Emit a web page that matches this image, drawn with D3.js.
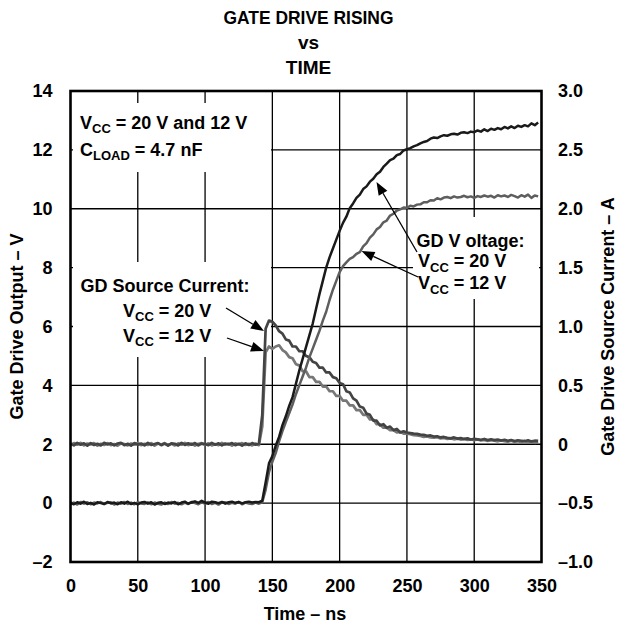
<!DOCTYPE html>
<html>
<head>
<meta charset="utf-8">
<script src="https://cdn.jsdelivr.net/npm/d3@7"></script>
<style>
  body { margin: 0; background: #fff; }
  svg text { font-family: "Liberation Sans", Arial, Helvetica, sans-serif; font-weight: bold; fill: #000; }
</style>
</head>
<body>
<svg id="chart" width="617" height="632"></svg>
<script>
// Scope capture, one sample every 2.5 ns starting at t = 0
const sampleStepNs = 2.5;

const timeTicks = [0, 50, 100, 150, 200, 250, 300, 350];
const voltTicks = [-2, 0, 2, 4, 6, 8, 10, 12, 14];
const voltTickLabels = ["\u20132", "0", "2", "4", "6", "8", "10", "12", "14"];
const currentTicks = [-1, -0.5, 0, 0.5, 1, 1.5, 2, 2.5, 3];
const currentTickLabels = ["\u20131.0", "\u20130.5", "0", "0.5", "1.0", "1.5", "2.0", "2.5", "3.0"];

// Gate drive output voltage (V), VCC = 20 V
const gdVoltage20 = [
  0.02,-0.04,0.03,-0.02,0.05,-0.03,0.01,-0.05,0.03,0.00,
  -0.03,0.04,-0.01,0.02,-0.04,0.03,-0.02,0.05,-0.03,0.01,
  -0.04,0.02,0.04,-0.02,0.03,-0.05,0.01,0.03,-0.03,0.02,
  -0.01,0.04,-0.04,0.02,0.05,-0.02,0.03,0.06,0.01,0.08,
  0.02,-0.02,0.05,0.03,0.00,0.04,-0.02,0.03,0.05,0.01,
  0.04,-0.01,0.03,0.05,0.02,0.04,0.03,0.08,0.70,1.35,
  1.60,1.95,2.25,2.65,2.95,3.30,3.60,4.05,4.50,4.90,
  5.30,5.70,6.10,6.60,7.10,7.55,8.00,8.35,8.65,8.95,
  9.25,9.52,9.73,10.02,10.18,10.37,10.48,10.67,10.76,10.92,
  11.02,11.17,11.26,11.42,11.53,11.65,11.70,11.82,11.86,11.98,
  12.02,12.06,12.12,12.16,12.22,12.27,12.30,12.38,12.42,12.40,
  12.46,12.50,12.48,12.53,12.55,12.52,12.58,12.60,12.57,12.62,
  12.60,12.66,12.62,12.70,12.64,12.72,12.68,12.74,12.70,12.78,
  12.73,12.80,12.74,12.82,12.78,12.84,12.80,12.90,12.84,12.93
];

// Gate drive output voltage (V), VCC = 12 V
const gdVoltage12 = [
  -0.03,0.02,-0.05,0.04,-0.02,0.03,-0.04,0.02,-0.01,0.04,
  -0.03,0.01,0.03,-0.05,0.02,-0.02,0.04,-0.03,0.02,-0.04,
  0.03,-0.01,-0.03,0.03,-0.04,0.02,-0.02,-0.05,0.02,-0.03,
  0.04,-0.02,0.01,-0.04,0.02,-0.03,0.04,0.00,-0.04,0.03,
  -0.02,0.04,-0.03,0.01,-0.05,0.02,0.03,-0.03,0.01,-0.02,
  0.04,-0.04,0.02,-0.01,-0.03,0.02,-0.02,0.03,0.45,1.05,
  1.40,1.70,2.10,2.45,2.75,3.05,3.35,3.70,4.00,4.30,
  4.60,4.95,5.25,5.55,5.85,6.20,6.50,6.90,7.25,7.55,
  7.85,8.05,8.18,8.30,8.36,8.47,8.53,8.72,8.83,9.02,
  9.13,9.30,9.38,9.54,9.60,9.77,9.83,9.94,9.98,10.04,
  10.03,10.10,10.08,10.14,10.15,10.22,10.22,10.29,10.28,10.36,
  10.32,10.38,10.40,10.36,10.42,10.38,10.40,10.44,10.39,10.42,
  10.37,10.43,10.40,10.45,10.41,10.44,10.38,10.46,10.42,10.45,
  10.40,10.47,10.43,10.38,10.46,10.41,10.48,10.37,10.45,10.42
];

// Gate drive source current (A), VCC = 20 V
const gdCurrent20 = [
  0.005,-0.01,0.012,-0.004,0.008,-0.012,0.01,-0.006,0.004,-0.01,
  0.012,-0.002,0.008,-0.01,0.006,0.012,-0.008,0.004,-0.012,0.01,
  -0.004,0.006,-0.01,0.012,-0.006,0.002,0.01,-0.008,0.006,-0.012,
  0.008,0.004,-0.01,0.012,-0.006,0.008,-0.004,0.01,-0.01,0.006,
  0.002,-0.008,0.012,-0.004,0.008,-0.01,0.006,-0.002,0.01,-0.008,
  0.004,-0.012,0.008,-0.006,0.01,-0.004,0.006,0.25,0.98,1.05,
  1.04,1.01,0.96,0.94,0.89,0.88,0.83,0.83,0.79,0.79,
  0.75,0.74,0.70,0.69,0.65,0.65,0.61,0.61,0.57,0.56,
  0.52,0.51,0.45,0.44,0.39,0.37,0.32,0.31,0.26,0.25,
  0.20,0.20,0.16,0.17,0.14,0.15,0.12,0.13,0.10,0.11,
  0.10,0.095,0.09,0.088,0.082,0.08,0.072,0.075,0.065,0.068,
  0.058,0.062,0.055,0.05,0.058,0.048,0.052,0.045,0.05,0.04,
  0.046,0.042,0.038,0.045,0.036,0.042,0.035,0.04,0.032,0.038,
  0.03,0.036,0.028,0.034,0.03,0.026,0.034,0.024,0.03,0.028
];

// Gate drive source current (A), VCC = 12 V
const gdCurrent12 = [
  -0.008,0.01,-0.004,0.012,-0.01,0.006,-0.002,0.01,-0.012,0.004,
  -0.006,0.01,-0.008,0.002,-0.012,0.008,0.002,-0.01,0.006,-0.004,
  0.012,-0.008,0.004,-0.006,0.01,-0.012,0.006,-0.002,0.01,-0.006,
  0.004,-0.01,0.008,-0.004,0.012,-0.008,0.006,-0.012,0.004,0.01,
  -0.006,0.008,-0.01,0.002,-0.008,0.012,-0.004,0.006,-0.012,0.008,
  -0.002,0.01,-0.006,0.004,-0.01,0.006,-0.008,0.15,0.78,0.83,
  0.81,0.83,0.84,0.80,0.78,0.74,0.73,0.68,0.67,0.62,
  0.62,0.57,0.57,0.53,0.53,0.49,0.49,0.45,0.45,0.41,
  0.41,0.37,0.37,0.33,0.33,0.29,0.29,0.25,0.25,0.21,
  0.21,0.17,0.17,0.14,0.14,0.12,0.12,0.10,0.105,0.09,
  0.09,0.085,0.078,0.075,0.07,0.062,0.066,0.058,0.055,0.06,
  0.05,0.054,0.046,0.05,0.042,0.047,0.04,0.044,0.036,0.042,
  0.034,0.04,0.032,0.036,0.028,0.035,0.03,0.025,0.033,0.027,
  0.022,0.03,0.02,0.026,0.018,0.028,0.015,0.024,0.012,0.02
];

// ---- layout ----
const plot = { left: 70.5, right: 541.5, top: 91, bottom: 562 };
const svg = d3.select("#chart");

const x = d3.scaleLinear().domain([0, 350]).range([plot.left, plot.right]);
const yV = d3.scaleLinear().domain([-2, 14]).range([plot.bottom, plot.top]);
const yI = d3.scaleLinear().domain([-1, 3]).range([plot.bottom, plot.top]);

// Title
const title = svg.append("g").attr("text-anchor", "middle").style("font-size", "19px");
title.append("text").attr("x", 308.5).attr("y", 24)
  .attr("textLength", 170).attr("lengthAdjust", "spacingAndGlyphs").text("GATE DRIVE RISING");
title.append("text").attr("x", 308.5).attr("y", 49).text("vs");
title.append("text").attr("x", 308.5).attr("y", 74).text("TIME");

// Grid
const grid = svg.append("g").attr("stroke", "#000").attr("stroke-width", 1.3);
grid.selectAll("line.v").data(timeTicks.slice(1, -1)).join("line")
  .attr("x1", d => x(d)).attr("x2", d => x(d))
  .attr("y1", plot.top).attr("y2", plot.bottom);
grid.selectAll("line.h").data(voltTicks.slice(1, -1)).join("line")
  .attr("y1", d => yV(d)).attr("y2", d => yV(d))
  .attr("x1", plot.left).attr("x2", plot.right);

// White panels behind the annotation text
const panels = [
  { x0: 73, y0: 103, x1: 271, y1: 172 },
  { x0: 73, y0: 262, x1: 271, y1: 357 },
  { x0: 413, y0: 217, x1: 539, y1: 299 }
];
svg.append("g").selectAll("rect").data(panels).join("rect")
  .attr("x", d => d.x0).attr("y", d => d.y0)
  .attr("width", d => d.x1 - d.x0).attr("height", d => d.y1 - d.y0)
  .attr("fill", "#fff");

// Traces
const tOf = (d, i) => x(i * sampleStepNs);
const lineV = d3.line().x(tOf).y(d => yV(d));
const lineI = d3.line().x(tOf).y(d => yI(d));
const traces = [
  { data: gdCurrent12, gen: lineI, color: "#777", w: 2.7 },
  { data: gdCurrent20, gen: lineI, color: "#444", w: 2.7 },
  { data: gdVoltage12, gen: lineV, color: "#5e5e5e", w: 2.5 },
  { data: gdVoltage20, gen: lineV, color: "#1a1a1a", w: 2.5 }
];
svg.append("g").selectAll("path").data(traces).join("path")
  .attr("d", d => d.gen(d.data))
  .attr("fill", "none")
  .attr("stroke", d => d.color)
  .attr("stroke-width", d => d.w)
  .attr("stroke-linejoin", "round");

// Frame
svg.append("rect")
  .attr("x", plot.left).attr("y", plot.top)
  .attr("width", plot.right - plot.left).attr("height", plot.bottom - plot.top)
  .attr("fill", "none").attr("stroke", "#000").attr("stroke-width", 2.6);

// Axes
const styleAxis = g => {
  g.select(".domain").remove();
  g.selectAll("text").style("font-size", "18px").attr("fill", "#000")
    .style("font-family", "'Liberation Sans', Arial, sans-serif").style("font-weight", "bold");
};
svg.append("g").attr("transform", `translate(${plot.left},0)`)
  .call(d3.axisLeft(yV).tickValues(voltTicks).tickFormat((d, i) => voltTickLabels[i]).tickSize(0).tickPadding(18))
  .call(styleAxis);
svg.append("g").attr("transform", `translate(${plot.right},0)`)
  .call(d3.axisRight(yI).tickValues(currentTicks).tickFormat((d, i) => currentTickLabels[i]).tickSize(0).tickPadding(16.5))
  .call(styleAxis);
svg.append("g").attr("transform", `translate(0,${plot.bottom})`)
  .call(d3.axisBottom(x).tickValues(timeTicks).tickFormat(d3.format("d")).tickSize(0).tickPadding(17))
  .call(styleAxis);

// Axis titles
svg.append("text").attr("text-anchor", "middle").style("font-size", "18px")
  .attr("x", (plot.left + plot.right) / 2 - 1).attr("y", 620).text("Time \u2013 ns");
svg.append("text").attr("text-anchor", "middle").style("font-size", "18px")
  .attr("transform", `translate(23,${(plot.top + plot.bottom) / 2}) rotate(-90)`)
  .text("Gate Drive Output \u2013 V");
svg.append("text").attr("text-anchor", "middle").style("font-size", "18px")
  .attr("transform", `translate(614,${(plot.top + plot.bottom) / 2}) rotate(-90)`)
  .text("Gate Drive Source Current \u2013 A");

// Annotation text with subscripts
function label(xp, yp, main, sub, rest) {
  const t = svg.append("text").attr("x", xp).attr("y", yp).style("font-size", "18px");
  t.append("tspan").text(main);
  if (sub) {
    t.append("tspan").attr("dy", 4.5).style("font-size", "13px").text(sub);
    t.append("tspan").attr("dy", -4.5).text(rest);
  }
  return t;
}
label(80, 128.5, "V", "CC", " = 20 V and 12 V");
label(80, 155.5, "C", "LOAD", " = 4.7 nF");
label(80.5, 291.5, "GD Source Current:");
label(123, 316.5, "V", "CC", " = 20 V");
label(123, 341.5, "V", "CC", " = 12 V");
label(416.5, 246.5, "GD V oltage:");
label(418, 267, "V", "CC", " = 20 V");
label(418, 289, "V", "CC", " = 12 V");

// Arrows pointing from the labels to the traces
const arrows = [
  { x1: 226, y1: 308, x2: 264, y2: 331 },
  { x1: 227, y1: 338, x2: 264, y2: 351 },
  { x1: 417, y1: 252, x2: 376.5, y2: 182 },
  { x1: 418, y1: 277, x2: 361.5, y2: 251 }
];
const headLen = 13, headHalf = 5;
const ag = svg.append("g");
arrows.forEach(a => {
  const dx = a.x2 - a.x1, dy = a.y2 - a.y1, len = Math.hypot(dx, dy);
  const ux = dx / len, uy = dy / len;
  const bx = a.x2 - ux * headLen, by = a.y2 - uy * headLen;
  ag.append("line").attr("x1", a.x1).attr("y1", a.y1).attr("x2", bx).attr("y2", by)
    .attr("stroke", "#000").attr("stroke-width", 1.3);
  ag.append("path")
    .attr("d", `M${a.x2},${a.y2}L${bx - uy * headHalf},${by + ux * headHalf}L${bx + uy * headHalf},${by - ux * headHalf}Z`)
    .attr("fill", "#000");
});
</script>
</body>
</html>
